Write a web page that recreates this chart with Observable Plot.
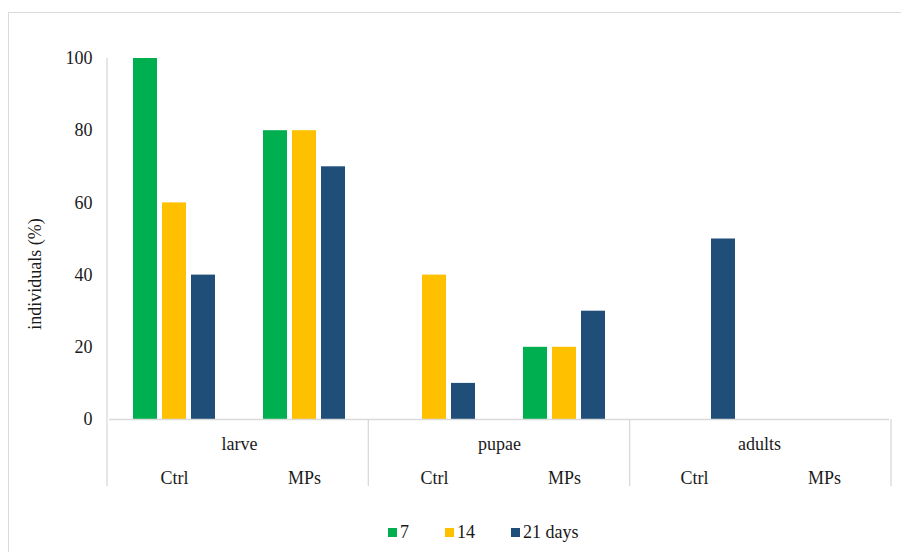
<!DOCTYPE html>
<html>
<head>
<meta charset="utf-8">
<script src="https://cdn.jsdelivr.net/npm/d3@7"></script>
<script src="https://cdn.jsdelivr.net/npm/@observablehq/plot@0.6"></script>
<style>
  html, body { margin: 0; padding: 0; background: #fff; width: 901px; height: 552px; overflow: hidden; position: relative; }
  #frame { position: absolute; left: 8px; top: 12px; width: 900px; height: 545px; border: 1px solid #d9d9d9; box-sizing: border-box; }
  #chart { position: absolute; left: 0; top: 0; }
  .serif { font-family: "Liberation Serif", "Times New Roman", Times, "DejaVu Serif", serif; }
  #ylabel { position: absolute; left: 35px; top: 274px; transform: translate(-50%, -50%) rotate(-90deg);
            font-size: 18px; color: #1a1a1a; white-space: nowrap; }
  #legend { position: absolute; left: 388px; top: 522px; display: flex; align-items: center;
            font-size: 18px; color: #1a1a1a; line-height: 20px; }
  #legend .item { display: flex; align-items: center; margin-right: 36px; }
  #legend .sw { width: 9px; height: 9px; margin-right: 3px; }
  #chart svg text { font-family: "Liberation Serif", "Times New Roman", Times, "DejaVu Serif", serif; }
</style>
</head>
<body>
<div id="frame"></div>
<div id="chart"></div>
<div id="ylabel" class="serif"></div>
<div id="legend" class="serif"></div>
<script>
// ---- data ----
const stages = ["larve", "pupae", "adults"];
const treatments = ["Ctrl", "MPs"];
const days = ["7", "14", "21"];
const legendLabels = ["7", "14", "21 days"];
const colors = ["#00B050", "#FFC000", "#1F4E79"];
// values per group: larve-Ctrl, larve-MPs, pupae-Ctrl, pupae-MPs, adults-Ctrl, adults-MPs
const day7  = [100, 80, 0, 20, 0, 0];
const day14 = [60, 80, 40, 20, 0, 0];
const day21 = [40, 70, 10, 30, 50, 0];
const yTicks = [0, 20, 40, 60, 80, 100];
const yLabel = "individuals (%)";

// ---- build table ----
const groups = [];
stages.forEach(s => treatments.forEach(t => groups.push(s + "|" + t)));
const series = [day7, day14, day21];
const rows = [];
groups.forEach((g, gi) => days.forEach((d, di) => rows.push({group: g, day: d, value: series[di][gi]})));

const W = 901, H = 500;
const plot = Plot.plot({
  width: W,
  height: H,
  marginTop: 58,
  marginBottom: 81,
  marginLeft: 107,
  marginRight: 10,
  style: {fontFamily: "'Liberation Serif', 'Times New Roman', Times, 'DejaVu Serif', serif", fontSize: "18px", color: "#1a1a1a", background: "transparent", overflow: "visible"},
  fx: {domain: groups, paddingInner: 0, paddingOuter: 0, axis: "bottom", tickSize: 0, tickPadding: 52,
       tickFormat: d => d.split("|")[1], label: null},
  x: {domain: days, paddingInner: 0.18, paddingOuter: 0.8, axis: null},
  y: {domain: [0, 100], ticks: yTicks, tickSize: 0, tickPadding: 17, label: null},
  color: {domain: days, range: colors},
  marks: [
    Plot.barY(rows, {fx: "group", x: "day", y: "value", fill: "day"}),
    Plot.ruleY([0], {stroke: "#d9d9d9", strokeWidth: 1.3}),
    Plot.text(stages, {fx: d => d + "|Ctrl", text: d => d, frameAnchor: "bottom-right",
                       textAnchor: "middle", lineAnchor: "middle", dy: 25, fill: "#1a1a1a"})
  ]
});
document.getElementById("chart").appendChild(plot);

// decoration lines: y axis line and group separators via plot scales
const fxs = plot.scale("fx");
const ys = plot.scale("y");
const yPos = v => ys.range[0] + (v - ys.domain[0]) / (ys.domain[1] - ys.domain[0]) * (ys.range[1] - ys.range[0]);
const step = (fxs.range[1] - fxs.range[0]) / fxs.domain.length;
const sepX = [];
stages.forEach(s => sepX.push(fxs.range[0] + fxs.domain.indexOf(s + "|Ctrl") * step));
sepX.push(fxs.range[1]);
const svg = d3.select(plot);
const y0 = yPos(0), y100 = yPos(100);
svg.append("line").attr("x1", sepX[0]).attr("x2", sepX[0]).attr("y1", y100).attr("y2", y0)
  .attr("stroke", "#d9d9d9").attr("stroke-width", 1.3);
sepX.forEach(x => svg.append("line").attr("x1", x).attr("x2", x).attr("y1", y0).attr("y2", y0 + 67)
  .attr("stroke", "#d9d9d9").attr("stroke-width", 1.3));

// y label
document.getElementById("ylabel").textContent = yLabel;

// legend
const leg = document.getElementById("legend");
legendLabels.forEach((l, i) => {
  const it = document.createElement("div"); it.className = "item";
  const sw = document.createElement("div"); sw.className = "sw"; sw.style.background = colors[i];
  const tx = document.createElement("span"); tx.textContent = l;
  it.appendChild(sw); it.appendChild(tx); leg.appendChild(it);
});
</script>
</body>
</html>
